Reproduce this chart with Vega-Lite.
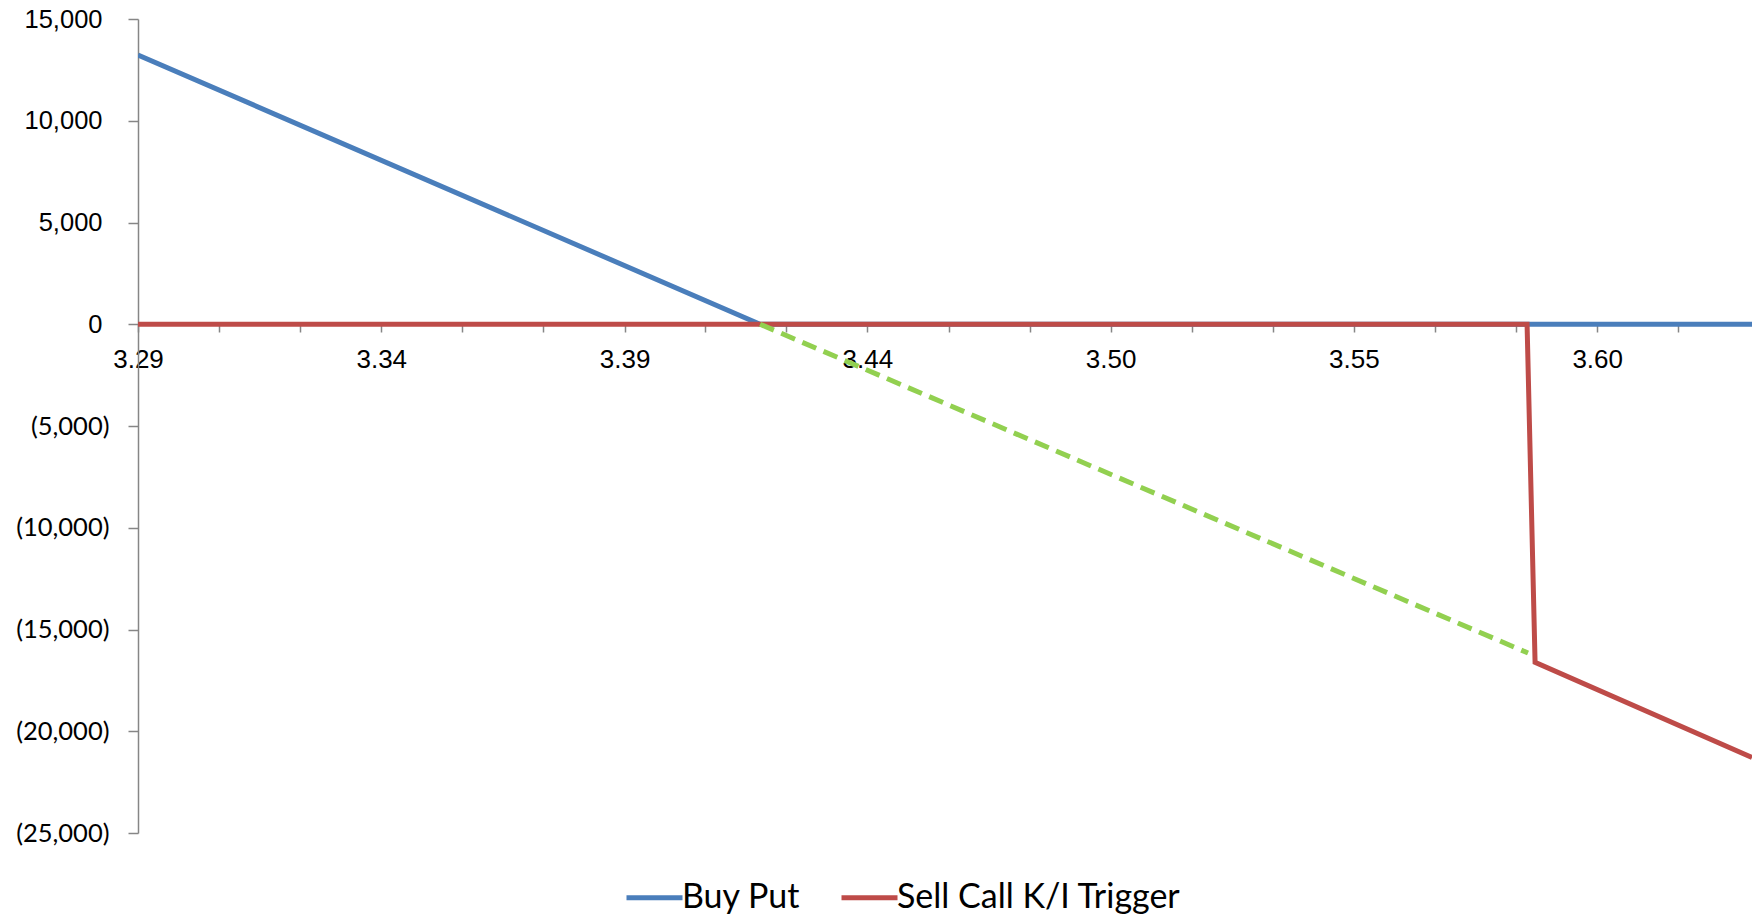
{
  "$schema": "https://vega.github.io/schema/vega-lite/v6.json",
  "width": 1614,
  "height": 814,
  "autosize": {"type": "none"},
  "padding": {"left": 138, "top": 19, "right": 0, "bottom": 83},
  "background": "white",
  "config": {"view": {"stroke": null}},
  "datasets": {
    "lines": [
      {"x": 3.289, "value": 13231, "series": "Buy Put"},
      {"x": 3.4212, "value": 0, "series": "Buy Put"},
      {"x": 3.632, "value": 0, "series": "Buy Put"},
      {"x": 3.289, "value": 0, "series": "Sell Call K/I Trigger"},
      {"x": 3.5842, "value": 0, "series": "Sell Call K/I Trigger"},
      {"x": 3.5859, "value": -16609, "series": "Sell Call K/I Trigger"},
      {"x": 3.632, "value": -21290, "series": "Sell Call K/I Trigger"}
    ],
    "dashed": [
      {"x": 3.4212, "value": 0},
      {"x": 3.5844, "value": -16155}
    ]
  },
  "layer": [
    {
      "data": {"name": "lines"},
      "mark": {"type": "line", "strokeWidth": 5, "clip": true, "strokeJoin": "miter"},
      "encoding": {
        "x": {
          "field": "x",
          "type": "quantitative",
          "scale": {"domain": [3.289, 3.632], "nice": false, "zero": false},
          "axis": {
            "title": null,
            "offset": -509,
            "values": [3.289, 3.3062, 3.3235, 3.3407, 3.3579, 3.3751, 3.3924, 3.4096, 3.4268, 3.444, 3.4613, 3.4785, 3.4957, 3.5129, 3.5302, 3.5474, 3.5646, 3.5818, 3.5991, 3.6163],
            "labelExpr": "indexof([0,3,6,9,12,15,18], round((datum.value-3.289)/0.017225)) >= 0 ? format(datum.value, '.2f') : ''",
            "labelOverlap": false,
            "labelFlush": false,
            "labelFont": "Liberation Sans",
            "labelFontSize": 26,
            "labelColor": "black",
            "labelPadding": 14,
            "grid": false,
            "domainColor": "#868686",
            "domainWidth": 1.5,
            "tickColor": "#868686",
            "tickWidth": 1.5,
            "tickSize": 8
          }
        },
        "y": {
          "field": "value",
          "type": "quantitative",
          "scale": {"domain": [-25000, 15000], "nice": false},
          "axis": {
            "title": null,
            "values": [-25000, -20000, -15000, -10000, -5000, 0, 5000, 10000, 15000],
            "labelExpr": "datum.value < 0 ? '(' + format(-datum.value, ',') + ')' : format(datum.value, ',')",
            "labelFont": {"condition": {"test": "datum.value < 0", "value": "Lato"}, "value": "Liberation Sans"},
            "labelFontSize": 25.5,
            "labelPadding": {"condition": {"test": "datum.value < 0", "value": 19}, "value": 26},
            "labelColor": "black",
            "grid": false,
            "domainColor": "#868686",
            "domainWidth": 1.5,
            "tickColor": "#868686",
            "tickWidth": 1.5,
            "tickSize": 10
          }
        },
        "color": {
          "field": "series",
          "type": "nominal",
          "scale": {"domain": ["Buy Put", "Sell Call K/I Trigger"], "range": ["#4A7EBB", "#BE4B48"]},
          "legend": {
            "orient": "none",
            "legendX": 486,
            "legendY": 848,
            "direction": "horizontal",
            "title": null,
            "symbolType": "stroke",
            "symbolSize": 3136,
            "symbolStrokeWidth": 5,
            "labelFont": "Lato",
            "labelFontSize": 34,
            "labelColor": "black",
            "labelOffset": -3,
            "labelLimit": 500,
            "columnPadding": 30,
            "padding": 0
          }
        }
      }
    },
    {
      "data": {"name": "dashed"},
      "mark": {"type": "line", "strokeWidth": 5, "color": "#92D050", "strokeDash": [15, 8], "clip": true},
      "encoding": {
        "x": {"field": "x", "type": "quantitative"},
        "y": {"field": "value", "type": "quantitative"}
      }
    }
  ]
}
